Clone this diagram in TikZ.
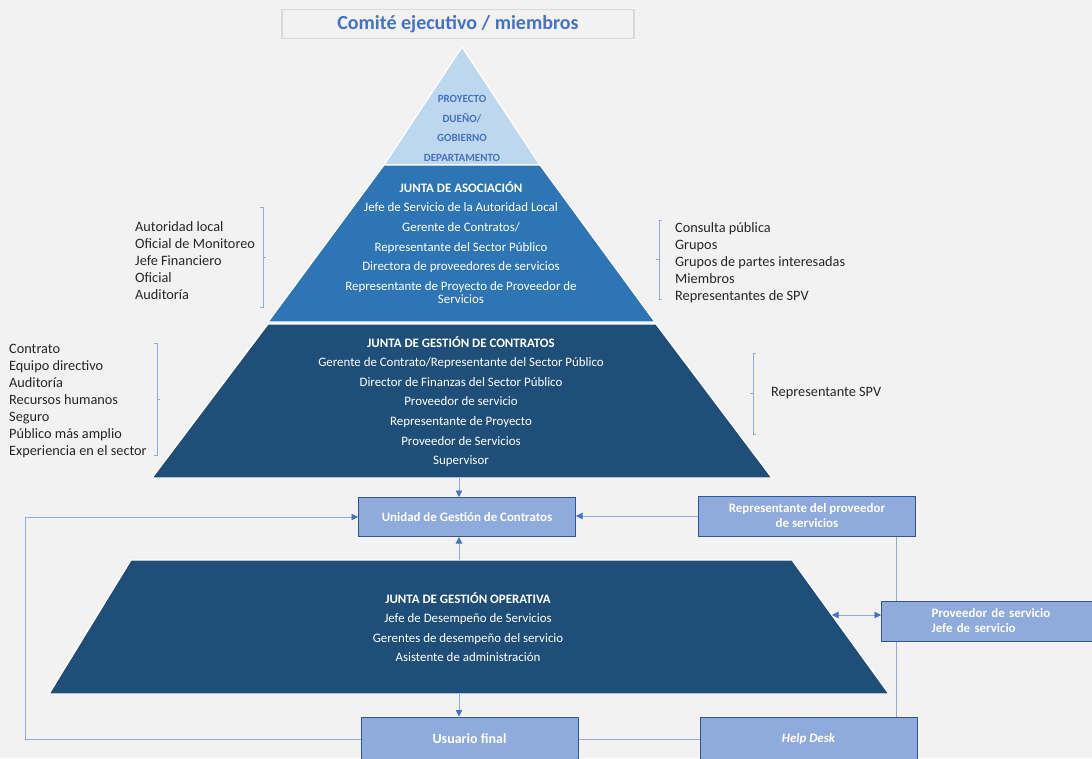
\documentclass[tikz,border=0pt]{standalone}
\usepackage{fontspec}
\setmainfont{Carlito}
\usepackage{xcolor}
\usetikzlibrary{arrows.meta,positioning,calc}

\definecolor{bg}{HTML}{F2F2F2}
\definecolor{headblue}{HTML}{4472C4}
\definecolor{paleblue}{HTML}{BDD7EE}
\definecolor{midblue}{HTML}{2E75B6}
\definecolor{navy}{HTML}{1F4E79}
\definecolor{unitfill}{HTML}{8FAADC}
\definecolor{unitline}{HTML}{2F5597}
\definecolor{wire}{HTML}{8FAADC}
\definecolor{sidegray}{HTML}{262626}

\begin{document}
\begin{tikzpicture}[
  x=1pt, y=-1pt,
  tier/.style={draw=white, line width=1.2pt},
  tiertext/.style={text=white, align=center, inner sep=0pt, font=\fontsize{12.9}{19.6}\selectfont},
  side/.style={text=sidegray, align=left, anchor=north west, inner sep=0pt, font=\fontsize{14.3}{17}\selectfont},
  unit/.style={draw=unitline, fill=unitfill, line width=1pt, text=white, align=center,
    font=\bfseries\fontsize{12.9}{15}\selectfont, minimum width=217pt, minimum height=40pt, inner sep=2pt},
  link/.style={draw=wire, line width=0.8pt},
  tip/.style={link, -{Triangle[length=6.5pt, width=6.5pt, color=headblue]}},
  brace/.style={draw=wire, line width=0.8pt}
]
\useasboundingbox (0,0) rectangle (1092,758);
\clip (0,0) rectangle (1092,758);
\fill[bg] (0,0) rectangle (1092,758);

\node[draw=black!15, line width=1.5pt, minimum width=352pt, minimum height=29pt, inner sep=0pt,
  text=headblue, font=\bfseries\fontsize{20}{22}\selectfont] (title) at (458,24) {Comité ejecutivo / miembros};

% pyramid
\fill[tier, fill=paleblue] (462,47) -- (540,165) -- (384,165) -- cycle;
\fill[tier, fill=midblue] (384,165) -- (540,165) -- (655,322) -- (268,322) -- cycle;
\fill[tier, fill=navy] (268,324) -- (656,324) -- (772,478) -- (152,478) -- cycle;
\fill[tier, fill=navy] (131,560) -- (792,560) -- (889,694) -- (49,694) -- cycle;

\coordinate (t3b) at (459,478);
\coordinate (t4t) at (459,560);
\coordinate (t4b) at (459,694);
\coordinate (t4r) at (832,615);
\coordinate (loop) at (25,517);
\coordinate (drop) at (896,0);

\node[tiertext, text=headblue, font=\bfseries\fontsize{11}{19.7}\selectfont] (owner) at (462,128.5)
  {PROYECTO\\DUEÑO/\\GOBIERNO\\DEPARTAMENTO};
\node[tiertext] (assoc) at (461,242.5)
  {\textbf{JUNTA DE ASOCIACIÓN}\\Jefe de Servicio de la Autoridad Local\\Gerente de Contratos/\\
   Representante del Sector Público\\Directora de proveedores de servicios\\
   Representante de Proyecto de Proveedor de\\[-6.5pt]Servicios};
\node[tiertext] (contr) at (461,401.5)
  {\textbf{JUNTA DE GESTIÓN DE CONTRATOS}\\Gerente de Contrato/Representante del Sector Público\\
   Director de Finanzas del Sector Público\\Proveedor de servicio\\Representante de Proyecto\\
   Proveedor de Servicios\\Supervisor};
\node[tiertext, font=\fontsize{12.9}{19.4}\selectfont] (oper) at (468,627)
  {\textbf{JUNTA DE GESTIÓN OPERATIVA}\\Jefe de Desempeño de Servicios\\
   Gerentes de desempeño del servicio\\Asistente de administración};

% side lists
\node[side] (auth) at (135,221) {Autoridad local\\Oficial de Monitoreo\\Jefe Financiero\\Oficial\\Auditoría};
\node[side] (public) at (675,222) {Consulta pública\\Grupos\\Grupos de partes interesadas\\Miembros\\Representantes de SPV};
\node[side] (team) at (9,344) {Contrato\\Equipo directivo\\Auditoría\\Recursos humanos\\Seguro\\Público más amplio\\Experiencia en el sector};
\node[side, anchor=west] (spv) at (771,393.5) {Representante SPV};

\draw[brace] (260,207) -- (263,207) -- (263,307) -- (260,307) (263,257) -- (266,257);
\draw[brace] (662,220) -- (659,220) -- (659,299) -- (662,299) (659,259) -- (656,259);
\draw[brace] (154,343) -- (157,343) -- (157,455) -- (154,455) (157,399) -- (160,399);
\draw[brace] (756,353) -- (753,353) -- (753,434) -- (756,434) (753,393) -- (750,393);

% boxes
\node[unit, minimum height=39pt] (unit) at (467,517) {Unidad de Gestión de Contratos};
\node[unit] (rep) at (807,516) {Representante del proveedor\\de servicios};
\node[unit, anchor=west, minimum width=0pt, text width=160pt, inner xsep=50pt, align=left] (prov) at (881,621)
  {Proveedor de servicio\\Jefe de servicio};
\node[unit, minimum height=44pt, font=\bfseries\fontsize{14}{15}\selectfont] (user) at (469.5,739) {Usuario final};
\node[unit, minimum height=44pt, font=\bfseries\itshape\fontsize{12.9}{15}\selectfont] (help) at (808.5,739) {Help Desk};

% connectors
\draw[tip] (t3b) -- (t3b |- unit.north);
\draw[tip] (t4t) -- (t4t |- unit.south);
\draw[tip] (rep.west) -- (rep.west -| unit.east);
\draw[tip] (user.west) -| (loop) -- (unit.west);
\draw[tip] (t4b) -- (t4b |- user.north);
\draw[link] (user.east) -- (help.west);
\draw[link] (rep.south -| drop) -- (prov.north -| drop);
\draw[link] (prov.south -| drop) -- (help.north -| drop);
\draw[link, {Triangle[length=6.5pt, width=6.5pt, color=headblue]}-{Triangle[length=6.5pt, width=6.5pt, color=headblue]}]
  (t4r) -- (t4r -| prov.west);
\end{tikzpicture}
\end{document}
